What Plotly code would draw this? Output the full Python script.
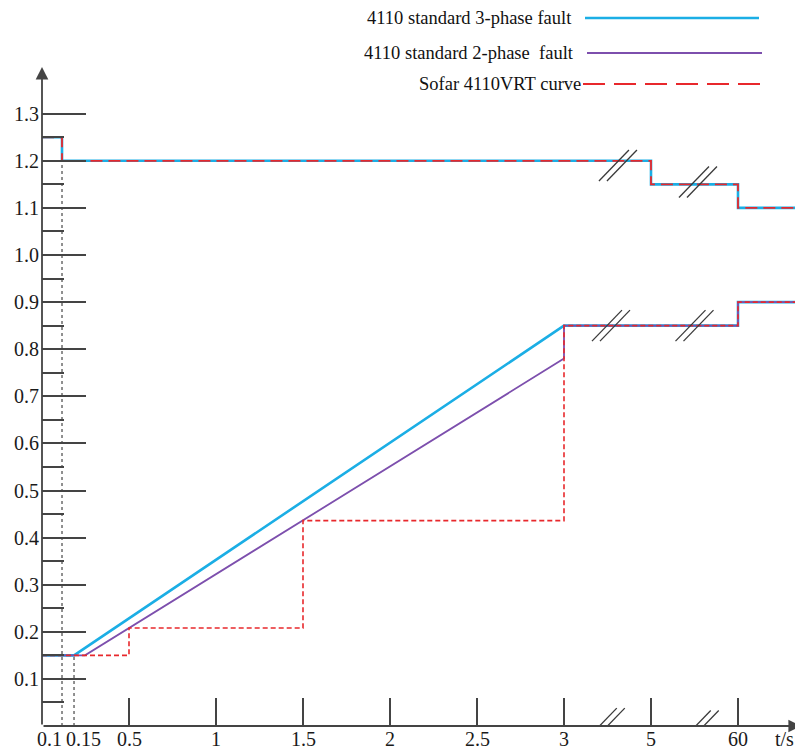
import numpy as np
import plotly.graph_objects as go

# ---- broken time axis: real time (s) -> display position ----
T_KNOTS = [0, 0.1, 0.15, 0.5, 3, 5, 60, 120]
P_KNOTS = [0, 0.115, 0.184, 0.5, 3, 3.5, 4.0, 4.5]


def pos(t):
    return np.interp(np.asarray(t, float), T_KNOTS, P_KNOTS).tolist()


# ---- data ----
# high-voltage ride-through (upper) curves, step ("hv") form
hv_std_t = [0, 0.1, 5, 60, 120]
hv_std_v = [1.25, 1.2, 1.15, 1.1, 1.1]
hv_sofar_t = [0, 0.1, 5, 60, 120]
hv_sofar_v = [1.25, 1.2, 1.15, 1.1, 1.1]

# low-voltage ride-through (lower) curves
lv_3ph_t = [0, 0.15, 3, 60, 60, 120]
lv_3ph_v = [0.15, 0.15, 0.85, 0.85, 0.9, 0.9]
lv_2ph_t = [0, 0.22, 3, 3, 60, 60, 120]
lv_2ph_v = [0.15, 0.15, 0.78, 0.85, 0.85, 0.9, 0.9]
lv_sofar_t = [0, 0.5, 1.5, 3, 60, 120]
lv_sofar_v = [0.15, 0.208, 0.436, 0.85, 0.9, 0.9]

# dotted reference lines
ref1_t = [0.1, 0.1]
ref1_v = [0, 1.2]
ref2_t = [0.15, 0.15]
ref2_v = [0, 0.15]

x_tick_t = [0.5, 1, 1.5, 2, 2.5, 3, 5, 60]
x_tick_lbl = ["0.5", "1", "1.5", "2", "2.5", "3", "5", "60"]
y_major = [0.1, 0.2, 0.3, 0.4, 0.5, 0.6, 0.7, 0.8, 0.9, 1.0, 1.1, 1.2, 1.3]
y_minor = [0.05, 0.15, 0.25, 0.35, 0.45, 0.55, 0.65, 0.75, 0.85, 0.95, 1.05, 1.15, 1.25]

names = ["4110 standard 3-phase fault", "4110 standard 2-phase\u00a0 fault", "Sofar 4110VRT curve"]

BLUE = "#1BAEE5"
PURPLE = "#7D4FAD"
RED = "#E8282C"
AX = "#444444"
FONT = "Liberation Serif"

OFF = 8                      # page offset of the figure (body margin)
PAGE_W, PAGE_H = 803, 752
W, H = PAGE_W - OFF, PAGE_H - OFF
ML, MR, MT, MB = 34, 0, 52, 26
PLOT_L = OFF + ML            # page px of plot-area left (= y axis)
PLOT_B = OFF + H - MB        # page px of plot-area bottom (= x axis)
PLOT_T = OFF + MT
PLOT_W = W - ML - MR
PLOT_H = H - MT - MB
PX_X = 174.0   # px per display unit
PX_Y = 471.0   # px per 1.0 voltage unit
XMAX = PLOT_W / PX_X
YMAX = PLOT_H / PX_Y

fig = go.Figure()

# dotted refs
for tt, vv in [(ref1_t, ref1_v), (ref2_t, ref2_v)]:
    fig.add_trace(go.Scatter(x=pos(tt), y=vv, mode="lines",
                             line=dict(color="#555", width=1.3, dash="dot"),
                             showlegend=False, hoverinfo="skip"))

# 3-phase
fig.add_trace(go.Scatter(x=pos(hv_std_t), y=hv_std_v, mode="lines", line_shape="hv",
                         line=dict(color=BLUE, width=2.6), name=names[0], showlegend=False))
fig.add_trace(go.Scatter(x=pos(lv_3ph_t), y=lv_3ph_v, mode="lines",
                         line=dict(color=BLUE, width=2.6), name=names[0], showlegend=False))
# 2-phase
fig.add_trace(go.Scatter(x=pos(lv_2ph_t), y=lv_2ph_v, mode="lines",
                         line=dict(color=PURPLE, width=1.8), name=names[1], showlegend=False))
# Sofar
fig.add_trace(go.Scatter(x=pos(hv_sofar_t), y=hv_sofar_v, mode="lines", line_shape="hv",
                         line=dict(color=RED, width=1.8, dash="12px,6px"), name=names[2], showlegend=False))
fig.add_trace(go.Scatter(x=pos(lv_sofar_t), y=lv_sofar_v, mode="lines", line_shape="hv",
                         line=dict(color=RED, width=1.6, dash="5px,3px"), name=names[2], showlegend=False))


def px2paper(px, py):
    return (px - PLOT_L) / PLOT_W, (PLOT_B - py) / PLOT_H


shapes = []
annotations = []

# legend (manual)
legend_rows = [
    (names[0], 18, 574, 585, 759, BLUE, 2.4, "solid"),
    (names[1], 53, 576, 587, 762, PURPLE, 2.0, "solid"),
    (names[2], 84, 583, 583, 760, RED, 2.0, "22px,9px"),
]
for txt, py, tx, x0, x1, col, wd, dsh in legend_rows:
    ax_, ay_ = px2paper(tx, py)
    annotations.append(dict(x=ax_, y=ay_, xref="paper", yref="paper", text=txt,
                            showarrow=False, xanchor="right", yanchor="middle",
                            font=dict(family=FONT, size=18.5, color="#111")))
    p0 = px2paper(x0, py)
    p1 = px2paper(x1, py)
    shapes.append(dict(type="line", xref="paper", yref="paper", x0=p0[0], y0=p0[1],
                       x1=p1[0], y1=p1[1], line=dict(color=col, width=wd, dash=dsh)))

# axis break marks "//"
breaks = [(3.24, 0.005), (3.78, 0.0), (3.31, 1.19), (3.77, 1.155), (3.27, 0.85), (3.75, 0.85)]
dx = 15 / PX_X
dy = 15.5 / PX_Y
for bx, by in breaks:
    for off in (-4 / PX_X, 4 / PX_X):
        shapes.append(dict(type="line", xref="x", yref="y",
                           x0=bx + off - dx, y0=by - dy, x1=bx + off + dx, y1=by + dy,
                           line=dict(color="#3a3a3a", width=1.3)))

# axes with arrow heads
annotations.append(dict(x=(801 - PLOT_L) / PX_X, y=0, ax=0, ay=0, xref="x", yref="y",
                        axref="x", ayref="y", showarrow=True, arrowhead=2, arrowsize=1.4,
                        arrowwidth=1.8, arrowcolor=AX, text=""))
annotations.append(dict(x=0, y=(PLOT_B - 67) / PX_Y, ax=0, ay=0, xref="x", yref="y",
                        axref="x", ayref="y", showarrow=True, arrowhead=2, arrowsize=1.4,
                        arrowwidth=1.8, arrowcolor=AX, text=""))

# x labels (placed just under the axis)
lbl_font = dict(family=FONT, size=20, color="#1a1a1a")
x_lbls = [(0.1, "0.1", -13), (0.15, "0.15", 9)] + [(t, l, 0) for t, l in zip(x_tick_t, x_tick_lbl)]
for t, lbl, xs in x_lbls:
    annotations.append(dict(x=pos([t])[0], y=0, xref="x", yref="y", text=lbl, showarrow=False,
                            xanchor="center", yanchor="top", xshift=xs, yshift=0, font=lbl_font))
annotations.append(dict(x=1, y=0, xref="paper", yref="y", text="t/s", showarrow=False,
                        xanchor="right", yanchor="top", xshift=-7, yshift=0, font=lbl_font))

fig.update_layout(
    width=W, height=H,
    margin=dict(l=ML, r=MR, t=MT, b=MB, autoexpand=False),
    paper_bgcolor="white", plot_bgcolor="white",
    showlegend=False,
    shapes=shapes, annotations=annotations,
    xaxis=dict(range=[0, XMAX], tickmode="array", tickvals=pos(x_tick_t),
               showticklabels=False,
               ticks="inside", ticklen=28, tickwidth=1.6, tickcolor=AX,
               showgrid=False, zeroline=False, showline=False,
               automargin=False, fixedrange=True),
    yaxis=dict(range=[0, YMAX], tickmode="array", tickvals=y_major, tickformat=".1f",
               ticks="inside", ticklen=44, tickwidth=1.6, tickcolor=AX,
               minor=dict(tickmode="array", tickvals=y_minor, ticks="inside", ticklen=22,
                          tickwidth=1.6, tickcolor=AX, showgrid=False),
               showgrid=False, zeroline=False, showline=False, ticklabelstandoff=2,
               tickfont=lbl_font, automargin=False, fixedrange=True),
)

fig.write_html("out.html")
